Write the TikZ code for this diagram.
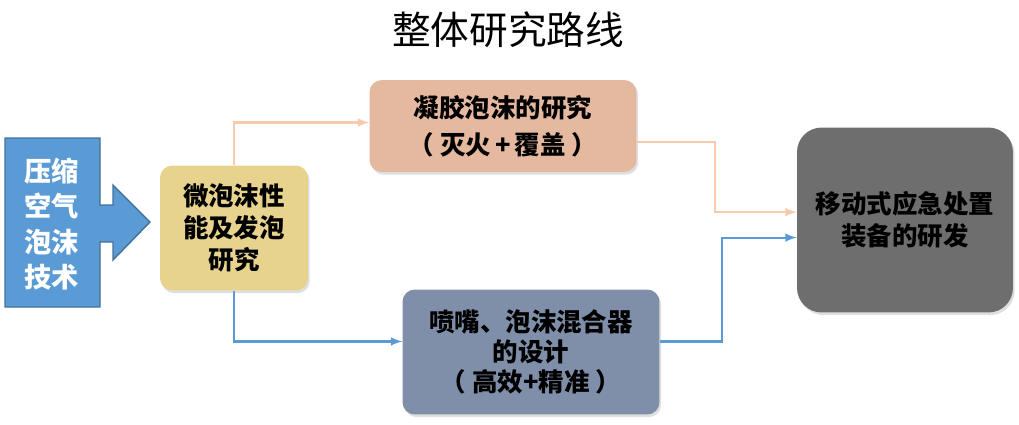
\documentclass[tikz,border=0pt]{standalone}
\usepackage{fontspec}
\setmainfont{Noto Sans CJK SC}
\usetikzlibrary{shadows}
\definecolor{arrowblue}{HTML}{5B9BD5}
\definecolor{arrowedge}{HTML}{41719C}
\definecolor{boxgold}{HTML}{E8D38E}
\definecolor{boxpeach}{HTML}{E4B9A0}
\definecolor{linepeach}{HTML}{F8CBAD}
\definecolor{boxslate}{HTML}{7F8EA9}
\definecolor{boxgray}{HTML}{6E6E6E}
\tikzset{
  stagebox/.style={rounded corners=7pt, align=center, inner sep=0pt,
    font=\fontsize{14.5}{18}\selectfont\bfseries,
    drop shadow={opacity=0.25, shadow xshift=1pt, shadow yshift=-1.5pt}},
  peachline/.style={linepeach, line width=1.2pt},
  blueline/.style={arrowblue, line width=1.2pt}
}
\begin{document}
\begin{tikzpicture}[>=latex, x=0.02cm, y=-0.02cm]
    \useasboundingbox (0,0) rectangle (1019,424);
    % 标题
    \node (title) at (508,30) {\fontsize{22}{26}\selectfont 整体研究路线};

    % 左侧箭头
    \draw[arrowedge, fill=arrowblue, line width=0.8pt]
        (5,138) -- (100,138) -- (100,205) -- (113,205) -- (113,185) -- (150,222)
        -- (113,260) -- (113,242) -- (100,242) -- (100,307) -- (5,307) -- cycle;
    \node[white, align=center, font=\fontsize{15.5}{20}\selectfont\bfseries] (tech) at (52,224)
        {压缩\\空气\\泡沫\\技术};

    % 各研究环节
    \node[stagebox, fill=boxgold, minimum width=2.96cm, minimum height=2.5cm] (micro) at (234,228)
        {微泡沫性\\能及发泡\\研究};
    \node[stagebox, fill=boxpeach, minimum width=5.34cm, minimum height=1.84cm,
        font=\fontsize{14.5}{21}\selectfont\bfseries] (gel) at (503,126)
        {凝胶泡沫的研究\\（\ 灭火\,+\,覆盖\ ）};
    \node[stagebox, fill=boxslate, minimum width=5.14cm, minimum height=2.5cm,
        font=\fontsize{14.5}{17}\selectfont\bfseries] (nozzle) at (531,352)
        {喷嘴、泡沫混合器\\的设计\\（\ 高效+精准\ ）};
    \node[stagebox, fill=boxgray, rounded corners=14pt, minimum width=4.32cm, minimum height=3.7cm] (equip) at (905,220)
        {移动式应急处置\\装备的研发};

    % 连线
    \draw[peachline, ->] (micro.north) |- ([yshift=2pt]gel.west);
    \draw[peachline, ->] ([yshift=-9pt]gel.east) -- ++(78,0) |- ([yshift=4.5pt]equip.west);
    \draw[blueline, ->] (micro.south) |- ([yshift=6pt]nozzle.west);
    \draw[blueline, ->] ([yshift=6pt]nozzle.east) -- ++(62,0) |- ([yshift=-10pt]equip.west);
\end{tikzpicture}
\end{document}
